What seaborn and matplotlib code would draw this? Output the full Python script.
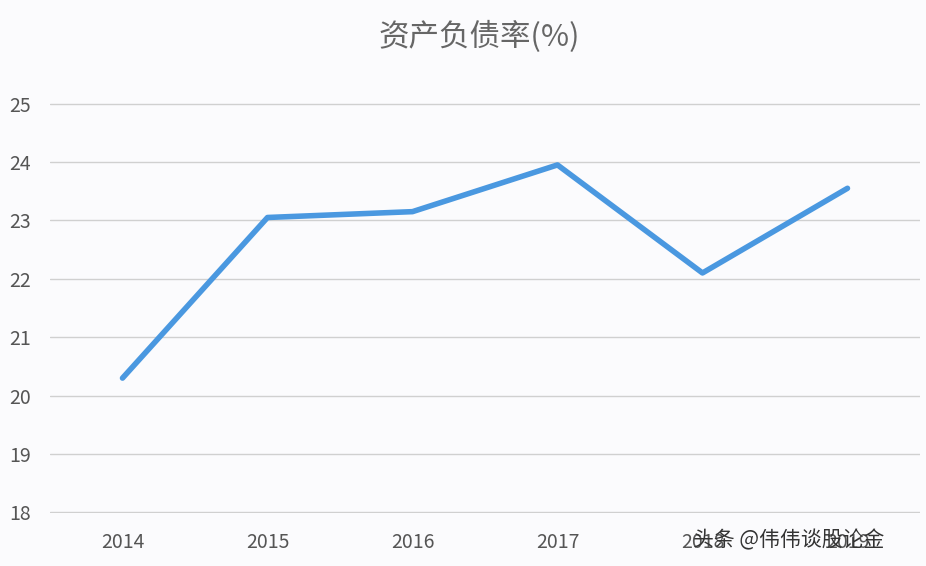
import matplotlib
matplotlib.use("Agg")
import matplotlib.pyplot as plt
import seaborn as sns
import pandas as pd

years = ["2014", "2015", "2016", "2017", "2018", "2019"]
values = [20.3, 23.05, 23.15, 23.95, 22.1, 23.55]
yticks = [18, 19, 20, 21, 22, 23, 24, 25]

sns.set_theme(style="white")
plt.rcParams['font.family'] = ['Noto Sans CJK SC', 'DejaVu Sans']

df = pd.DataFrame({"year": years, "value": values})
fig = plt.figure(figsize=(9.26, 5.66), dpi=100)
bg = "#fbfbfd"
fig.patch.set_facecolor(bg)
ax = fig.add_axes([0.054, 0.0936, 0.9395, 0.7244])
ax.set_facecolor(bg)
sns.lineplot(data=df, x="year", y="value", ax=ax, color="#4a98e0", linewidth=4, sort=False)
ax.set_xlim(-0.5, 5.5)
ax.set_ylim(17.99, 25.01)
ax.set_yticks(yticks)
ax.yaxis.grid(True, color="#d0d0d0", linewidth=1)
for s in ax.spines.values():
    s.set_visible(False)
ax.tick_params(axis="both", length=0, labelsize=14, colors="#555555")
ax.tick_params(axis="x", pad=14)
ax.tick_params(axis="y", pad=14)
ax.set_xlabel("")
ax.set_ylabel("")
fig.text(0.517, 0.935, "资产负债率(%)", ha="center", va="center", fontsize=22, color="#666666")
fig.text(0.748, 0.045, "头条 @伟伟谈股论金", ha="left", va="center", fontsize=15, color="#333333")
fig.savefig("out.png", dpi=100, facecolor=bg)
